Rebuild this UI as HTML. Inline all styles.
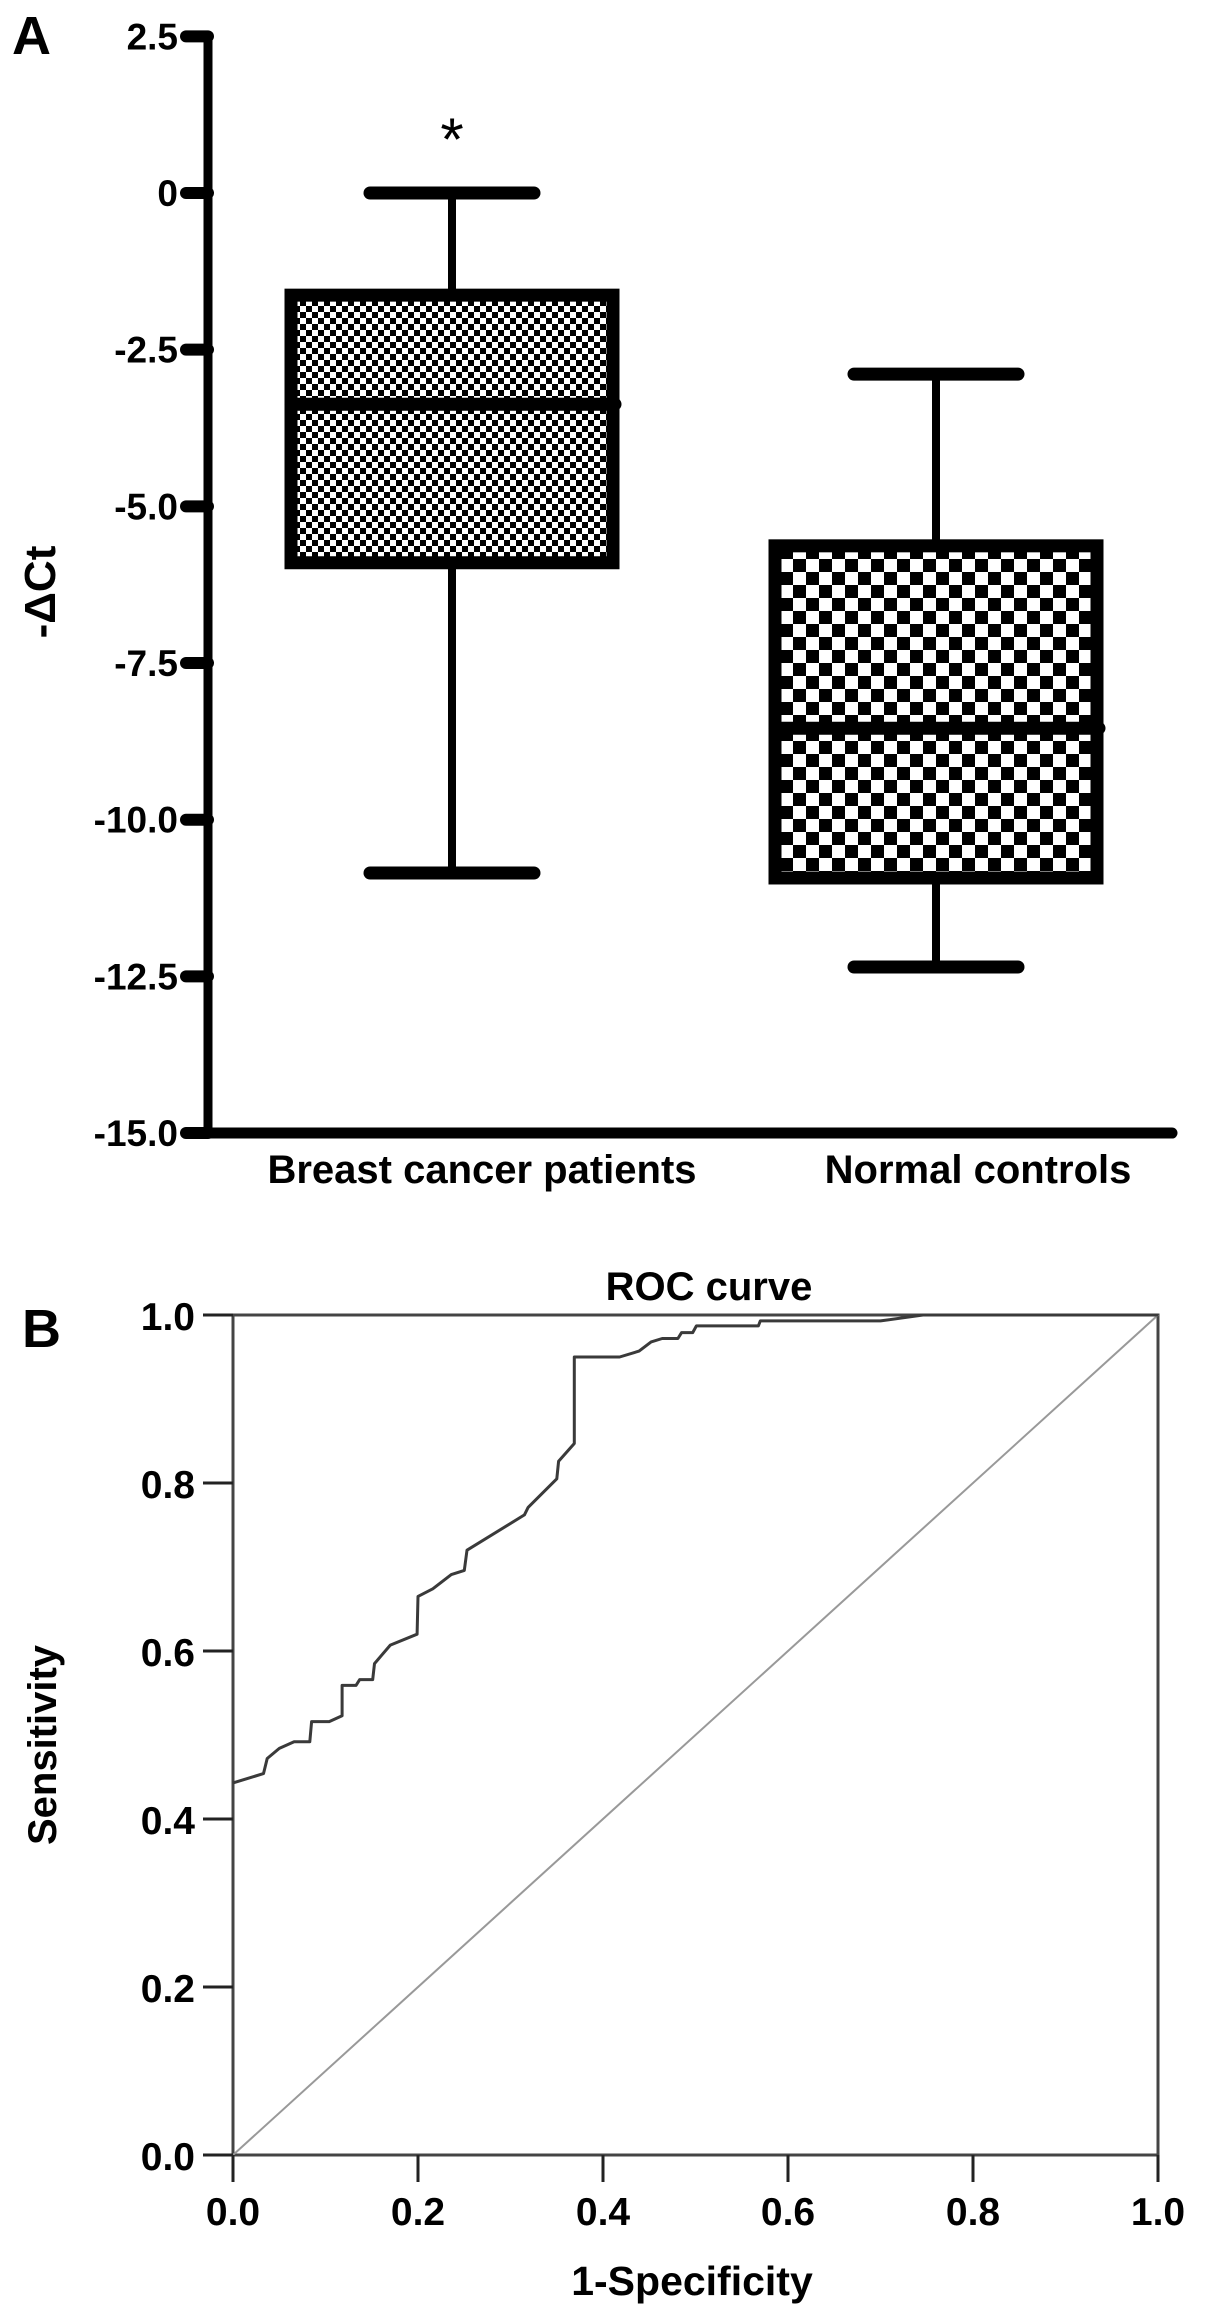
<!DOCTYPE html>
<html><head><meta charset="utf-8">
<style>
html,body{margin:0;padding:0;background:#fff;}
svg{display:block;font-family:"Liberation Sans",Arial,sans-serif;font-weight:bold;}
</style></head>
<body>
<svg id="fig" width="1205" height="2317" viewBox="0 0 1205 2317" xmlns="http://www.w3.org/2000/svg">
<defs>
<pattern id="fine" width="12" height="12" patternUnits="userSpaceOnUse">
<rect width="12" height="12" fill="#fff"/><rect x="0" y="0" width="6" height="6" fill="#000"/><rect x="6" y="6" width="6" height="6" fill="#000"/>
</pattern>
<pattern id="coarse" width="26" height="26" patternUnits="userSpaceOnUse">
<rect width="26" height="26" fill="#fff"/><rect x="0" y="0" width="13" height="13" fill="#000"/><rect x="13" y="13" width="13" height="13" fill="#000"/>
</pattern>
</defs>
<text x="12" y="54" font-size="54">A</text>
<text x="22" y="1347" font-size="54">B</text>
<g id="boxA"></g>
<g id="roc"></g>
</svg>
<script>
// ----- Panel A data -----
const boxCategories = ["Breast cancer patients", "Normal controls"];
const boxMin = [-10.85, -12.35];
const boxQ1 = [-5.9, -10.93];
const boxMedian = [-3.37, -8.54];
const boxQ3 = [-1.63, -5.63];
const boxMax = [0, -2.89];
const boxTicks = [2.5, 0, -2.5, -5.0, -7.5, -10.0, -12.5, -15.0];
const boxTickLabels = ["2.5", "0", "-2.5", "-5.0", "-7.5", "-10.0", "-12.5", "-15.0"];

// ----- Panel B data -----
const rocFpr = [0,0.033,0.037,0.05,0.066,0.083,0.085,0.104,0.118,0.118,0.133,0.137,0.151,0.153,0.170,0.199,0.2,0.216,0.236,0.25,0.253,0.315,0.319,0.35,0.352,0.369,0.369,0.418,0.439,0.452,0.464,0.481,0.485,0.497,0.501,0.568,0.570,0.70,0.746,1];
const rocTpr = [0.443,0.454,0.472,0.484,0.492,0.492,0.516,0.516,0.523,0.559,0.559,0.566,0.566,0.585,0.607,0.620,0.665,0.674,0.691,0.696,0.720,0.762,0.771,0.805,0.826,0.847,0.950,0.950,0.957,0.968,0.972,0.972,0.979,0.979,0.987,0.987,0.993,0.993,1,1];
const rocTicks = [0, 0.2, 0.4, 0.6, 0.8, 1.0];
const rocTickLabels = ["0.0", "0.2", "0.4", "0.6", "0.8", "1.0"];

const NS = "http://www.w3.org/2000/svg";
function mk(parent, tag, attrs, text) {
  const e = document.createElementNS(NS, tag);
  for (const k in attrs) e.setAttribute(k, attrs[k]);
  if (text !== undefined) e.textContent = text;
  parent.appendChild(e);
  return e;
}

// Panel A
(function(){
  const g = document.getElementById('boxA');
  const y = v => 193 - v * 62.67;
  const centers = [452, 936];
  const xAxisX = 208;
  let e = mk(g, 'line', {x1: xAxisX, y1: y(2.5) - 4, x2: xAxisX, y2: y(-15) + 5, stroke: '#000', 'stroke-width': 9});
  
  
  boxTicks.forEach((t, i) => {
    const tk = mk(g, 'line', {x1: 186, y1: y(t), x2: xAxisX, y2: y(t), stroke: '#000', 'stroke-width': 12, 'stroke-linecap': 'round'});
    
    
    const lb = mk(g, 'text', {x: 178, y: y(t) + 13, 'font-size': 37, 'text-anchor': 'end'}, boxTickLabels[i]);
    
    
  });
  e = mk(g, 'line', {x1: xAxisX - 4, y1: y(-15), x2: 1172, y2: y(-15), stroke: '#000', 'stroke-width': 11, 'stroke-linecap': 'round'});
  
  
  e = mk(g, 'text', {x: 0, y: 0, 'font-size': 44, 'text-anchor': 'middle', transform: 'translate(55,592) rotate(-90)'}, '-ΔCt');
  
  
  const fills = ['url(#fine)', 'url(#coarse)'];
  const labelX = [482, 978];
  boxCategories.forEach((c, i) => {
    const cx = centers[i], hw = 161, cw = 82;
    const wl = mk(g, 'line', {x1: cx, y1: y(boxMax[i]), x2: cx, y2: y(boxMin[i]), stroke: '#000', 'stroke-width': 8});
    
    
    [boxMax[i], boxMin[i]].forEach(v => {
      const cap = mk(g, 'line', {x1: cx - cw, y1: y(v), x2: cx + cw, y2: y(v), stroke: '#000', 'stroke-width': 13, 'stroke-linecap': 'round'});
      
      
    });
    const r = mk(g, 'rect', {x: cx - hw, y: y(boxQ3[i]), width: hw * 2, height: y(boxQ1[i]) - y(boxQ3[i]), fill: fills[i], stroke: '#000', 'stroke-width': 13});
    
    
    const m = mk(g, 'line', {x1: cx - hw, y1: y(boxMedian[i]), x2: cx + hw + 2, y2: y(boxMedian[i]), stroke: '#000', 'stroke-width': 13, 'stroke-linecap': 'round'});
    
    
    const t = mk(g, 'text', {x: labelX[i], y: y(-15) + 50, 'font-size': 40, 'text-anchor': 'middle'}, c);
    
    
  });
  e = mk(g, 'text', {x: centers[0], y: 160, 'font-size': 60, 'font-weight': 'normal', 'text-anchor': 'middle'}, '*');
  
  
})();

// Panel B
(function(){
  const g = document.getElementById('roc');
  const L = 233, R = 1158, T = 1315, B = 2155;
  const x = v => L + v * (R - L);
  const y = v => B - v * (B - T);
  let e = mk(g, 'rect', {x: L, y: T, width: R - L, height: B - T, fill: 'none', stroke: '#444', 'stroke-width': 3});
  
  
  e = mk(g, 'line', {x1: x(0), y1: y(0), x2: x(1), y2: y(1), stroke: '#999', 'stroke-width': 2});
  
  
  const pts = rocFpr.map((f, i) => x(f).toFixed(1) + ',' + y(rocTpr[i]).toFixed(1)).join(' ');
  e = mk(g, 'polyline', {points: pts, fill: 'none', stroke: '#3a3a3a', 'stroke-width': 3, 'stroke-linejoin': 'round'});
  
  
  rocTicks.forEach((t, i) => {
    const a = mk(g, 'line', {x1: L - 30, y1: y(t), x2: L, y2: y(t), stroke: '#222', 'stroke-width': 3});
    
    
    const b = mk(g, 'text', {x: L - 38, y: y(t) + 15, 'font-size': 39, 'text-anchor': 'end'}, rocTickLabels[i]);
    
    
    const c = mk(g, 'line', {x1: x(t), y1: B, x2: x(t), y2: B + 27, stroke: '#222', 'stroke-width': 3});
    
    
    const d = mk(g, 'text', {x: x(t), y: B + 70, 'font-size': 39, 'text-anchor': 'middle'}, rocTickLabels[i]);
    
    
  });
  e = mk(g, 'text', {x: 709, y: 1300, 'font-size': 40, 'text-anchor': 'middle'}, 'ROC curve');
  
  
  e = mk(g, 'text', {x: 692, y: 2295, 'font-size': 41, 'text-anchor': 'middle'}, '1-Specificity');
  
  
  e = mk(g, 'text', {x: 0, y: 0, 'font-size': 40, 'text-anchor': 'middle', transform: 'translate(56,1745) rotate(-90)'}, 'Sensitivity');
  
  
})();
</script>
</body></html>
